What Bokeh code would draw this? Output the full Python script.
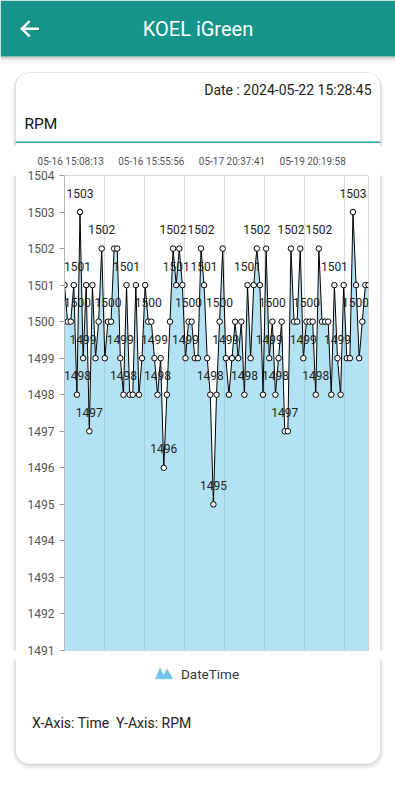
import math
from bokeh.plotting import figure
from bokeh.layouts import column, row
from bokeh.models import FixedTicker, Range1d
from bokeh.core.properties import value
from bokeh.embed import file_html
from bokeh.resources import INLINE

# ---- data ----
rpm = [1501, 1500, 1500, 1501, 1498, 1503, 1499, 1501, 1497, 1501,
       1499, 1500, 1502, 1499, 1500, 1500, 1502, 1502, 1499, 1498,
       1501, 1498, 1498, 1501, 1498, 1499, 1501, 1500, 1500, 1499,
       1498, 1499, 1496, 1498, 1500, 1502, 1501, 1502, 1501, 1499,
       1500, 1500, 1499, 1499, 1502, 1501, 1499, 1498, 1495, 1498,
       1500, 1502, 1499, 1498, 1499, 1500, 1499, 1500, 1498, 1501,
       1499, 1501, 1502, 1501, 1498, 1502, 1499, 1500, 1498, 1499,
       1500, 1497, 1497, 1502, 1500, 1500, 1502, 1499, 1500, 1500,
       1500, 1498, 1502, 1500, 1500, 1500, 1498, 1501, 1499, 1498,
       1501, 1499, 1499, 1503, 1501, 1499, 1500, 1501, 1501]
x_tick_index = [2, 28, 54, 80]
x_tick_labels = ["05-16 15:08:13", "05-16 15:55:56", "05-17 20:37:41", "05-19 20:19:58"]
y_ticks = list(range(1491, 1505))
app_title = "KOEL iGreen"
date_text = "Date : 2024-05-22 15:28:45"
card_title = "RPM"
legend_text = "DateTime"
footer_text = "X-Axis: Time\u00a0 Y-Axis: RPM"

TEAL = "#16948A"
SERIES = "#4DB9E6"
FONT = value("Roboto")

# ---- page pieces, all in page pixel coordinates (origin top-left of the window) ----
def deco(x0, x1, y0, y1):
    f = figure(width=x1 - x0, height=y1 - y0, x_range=Range1d(x0, x1), y_range=Range1d(y1, y0),
               output_backend="svg", toolbar_location=None, title=None,
               x_axis_type=None, y_axis_type=None, min_border=0)
    f.outline_line_color = None
    f.background_fill_color = "white"
    f.border_fill_color = "white"
    return f

def rounded(x0, y0, x1, y1, r, steps=10):
    xs, ys = [], []
    for cx, cy, a0 in [(x1 - r, y0 + r, -90), (x1 - r, y1 - r, 0), (x0 + r, y1 - r, 90), (x0 + r, y0 + r, 180)]:
        for k in range(steps + 1):
            a = math.radians(a0 + 90 * k / steps)
            xs.append(cx + r * math.cos(a)); ys.append(cy + r * math.sin(a))
    xs.append(xs[0]); ys.append(ys[0])
    return xs, ys

CARD = (15, 72, 380, 763.5, 14)

def draw_card(f):
    x0, y0, x1, y1, r = CARD
    for dy, lw, a in [(3.0, 6, 0.025), (2.0, 4, 0.04), (1.0, 2, 0.06)]:
        xs, ys = rounded(x0, y0 + dy, x1, y1 + dy, r)
        f.line(xs, ys, line_color="black", line_alpha=a, line_width=lw)
    xs, ys = rounded(x0, y0, x1, y1, r)
    f.patch(xs, ys, fill_color="white", line_color="black", line_alpha=0.07, line_width=1)

def txt(f, x, y, s, size, color, align="left"):
    f.text(x=[x], y=[y], text=[s], text_font=FONT, text_font_size=size, text_color=color,
           text_align=align, text_baseline="middle")

# top piece: header bar, card top, date, title
top = deco(0, 395, 0, 146)
draw_card(top)
for y1, a in [(63, 0.03), (60, 0.06), (58, 0.10)]:
    top.quad(left=[0], right=[395], top=[56], bottom=[y1], fill_color="black", fill_alpha=a, line_color=None)
top.quad(left=[0], right=[395], top=[0], bottom=[56], fill_color=TEAL, line_color=None)
top.multi_line(xs=[[21.5, 37.3], [28.3, 21.5, 28.3]], ys=[[28.3, 28.3], [21.5, 28.3, 35.1]],
               line_color="white", line_width=2.4, line_cap="square", line_join="miter")
txt(top, 197.5, 28.5, app_title, "20px", "white", "center")
txt(top, 371, 89.5, date_text, "14px", "#222222", "right")
txt(top, 24, 123.5, card_title, "15.5px", "#111111")
top.quad(left=[15], right=[380], top=[141], bottom=[142.6], fill_color=TEAL, fill_alpha=0.85, line_color=None)

# side strips carrying the card edges
left = deco(0, 20, 146, 660)
draw_card(left)
right = deco(375, 395, 146, 660)
draw_card(right)

# bottom piece: legend, footer, card bottom
bottom = deco(0, 395, 660, 800)
draw_card(bottom)
bottom.patches(xs=[[155, 159.6, 164.2], [161.2, 166.6, 172.3]], ys=[[678.3, 667, 678.3], [678.3, 668.5, 678.3]],
               fill_color="#6EC6EC", line_color="#6EC6EC", line_width=0.5)
txt(bottom, 180.5, 673, legend_text, "13.5px", "#333333")
txt(bottom, 31.5, 722, footer_text, "14px", "#222222")

# ---- chart ----
n = len(rpm)
idx = list(range(n))
CW, CH = 355, 514
FL, FR, FT, FB = 44, 7, 29, 10
FW = CW - FL - FR

p = figure(width=CW, height=CH, x_range=(0, n - 1), y_range=(1491, 1504),
           output_backend="svg", toolbar_location=None, title=None,
           x_axis_location="above", y_axis_location="left",
           min_border_left=FL, min_border_right=FR, min_border_top=FT, min_border_bottom=FB)
p.background_fill_color = "white"
p.border_fill_color = "white"
p.outline_line_color = "#d9d9d9"

xa = p.xaxis[0]
xa.ticker = FixedTicker(ticks=x_tick_index)
xa.major_label_overrides = {t: s for t, s in zip(x_tick_index, x_tick_labels)}
xa.axis_line_color = None
xa.major_tick_line_color = None
xa.minor_tick_line_color = None
xa.major_tick_out = 0
xa.major_label_standoff = 9
xa.major_label_text_font = "Roboto"
xa.major_label_text_font_size = "10px"
xa.major_label_text_color = "#555555"

ya = p.yaxis[0]
ya.ticker = FixedTicker(ticks=y_ticks)
ya.axis_line_color = "#b5b5b5"
ya.major_tick_line_color = "#9a9a9a"
ya.major_tick_in = 0
ya.major_tick_out = 5
ya.minor_tick_line_color = None
ya.major_label_standoff = 5
ya.major_label_text_font = "Roboto"
ya.major_label_text_font_size = "12px"
ya.major_label_text_color = "#555555"

p.ygrid.grid_line_color = None
p.xgrid.ticker = FixedTicker(ticks=[0, 12.9, 25.8, 38.7, 51.6, 64.5, 77.4, 90.3])
p.xgrid.grid_line_color = "#dcdcdc"

p.varea(x=idx, y1=[1491] * n, y2=rpm, fill_color=SERIES, fill_alpha=0.42)
p.line(idx, rpm, line_color="black", line_width=1)
p.scatter(idx, rpm, size=5.5, fill_color="white", line_color="black", line_width=1)

# data labels with overlap hiding (like the original chart)
ppu = FW / (n - 1)
LW = 26
shown = {}
lx, ly, lt, lo = [], [], [], []
for i, v in enumerate(rpm):
    cx = i * ppu
    l, r = cx - LW / 2, cx + LW / 2
    shift = -l if l < 0 else (FW - r if r > FW else 0)
    l, r = l + shift, r + shift
    boxes = shown.setdefault(v, [])
    if any(l < br and r > bl for bl, br in boxes):
        continue
    boxes.append((l, r))
    lx.append(i); ly.append(v); lt.append(str(v)); lo.append(shift)

p.text(x=lx, y=ly, text=lt, x_offset=lo, y_offset=-19,
       text_align="center", text_baseline="middle",
       text_font=FONT, text_font_size="12px", text_color="#222222")

layout = column(top, row(left, p, right, spacing=0), bottom, spacing=0)
open("out.html", "w").write(file_html(layout, INLINE))
